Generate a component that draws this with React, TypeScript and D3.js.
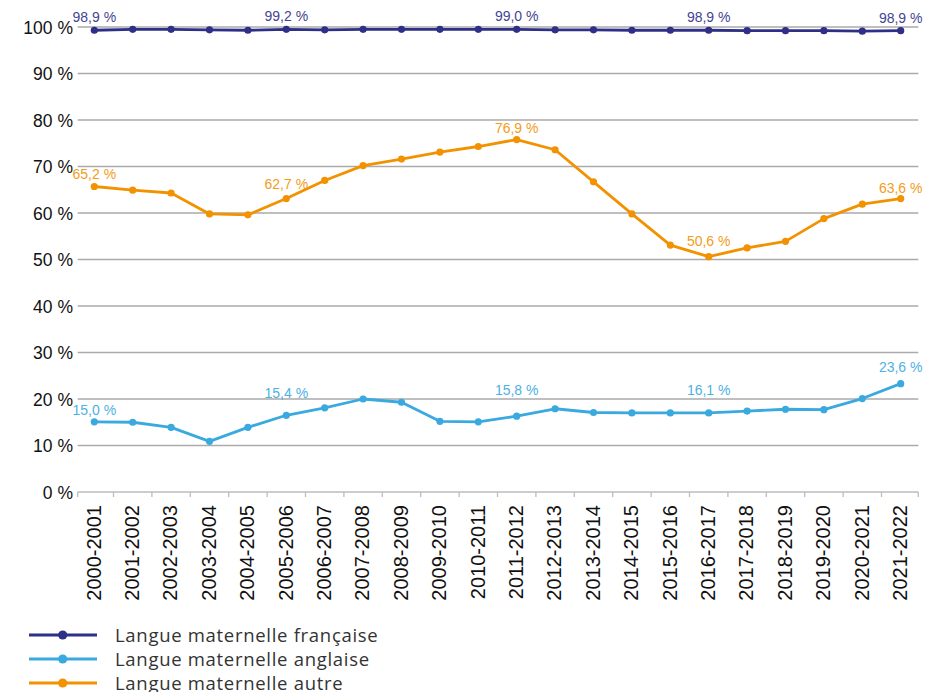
import React from "react";
import * as d3 from "d3";

const years = [
  "2000-2001","2001-2002","2002-2003","2003-2004","2004-2005","2005-2006","2006-2007",
  "2007-2008","2008-2009","2009-2010","2010-2011","2011-2012","2012-2013","2013-2014",
  "2014-2015","2015-2016","2016-2017","2017-2018","2018-2019","2019-2020","2020-2021","2021-2022",
];
const francaise = [99.3,99.5,99.5,99.4,99.3,99.5,99.4,99.5,99.5,99.5,99.5,99.5,99.4,99.4,99.3,99.3,99.3,99.2,99.2,99.2,99.1,99.2];
const anglaise = [15.1,15.0,13.9,10.9,13.9,16.5,18.1,20.0,19.3,15.2,15.1,16.3,17.9,17.1,17.0,17.0,17.0,17.4,17.8,17.7,20.1,23.3];
const autre = [65.7,64.9,64.3,59.8,59.6,63.1,67.0,70.2,71.6,73.1,74.3,75.8,73.6,66.7,59.8,53.1,50.6,52.5,53.9,58.8,61.9,63.1];
const yTicks = [0,10,20,30,40,50,60,70,80,90,100];
const seriesNames = ["Langue maternelle française","Langue maternelle anglaise","Langue maternelle autre"];
const labelsFr = [[0,"98,9 %"],[5,"99,2 %"],[11,"99,0 %"],[16,"98,9 %"],[21,"98,9 %"]] as [number,string][];
const labelsAn = [[0,"15,0 %"],[5,"15,4 %"],[11,"15,8 %"],[16,"16,1 %"],[21,"23,6 %"]] as [number,string][];
const labelsAu = [[0,"65,2 %"],[5,"62,7 %"],[11,"76,9 %"],[16,"50,6 %"],[21,"63,6 %"]] as [number,string][];

// layout-only: vertical offsets of value labels above their points
const offFr = [8,8,8,8,8];
const offAn = [7,17,21,18,12];
const offAu = [7,10,7,11,6];

const colors = ["#2E2F86", "#3AA9E0", "#F39200"];

export default function App() {
  const W = 940, H = 692;
  const left = 77.7, right = 918.3, top = 27, bottom = 492;
  const x = d3.scalePoint<string>().domain(years).range([94.3, 900.7]);
  const y = d3.scaleLinear().domain([0, 100]).range([bottom, top]);
  const step = x.step();
  const line = d3.line<number>().x((_, i) => x(years[i])!).y((v) => y(v));
  const series = [francaise, anglaise, autre];
  const labels = [labelsFr, labelsAn, labelsAu];
  const offs = [offFr, offAn, offAu];
  const tickXs = [left, ...years.slice(0, -1).map((yy) => x(yy)! + step / 2), right];

  return (
    <svg width={W} height={H} style={{ position: "absolute", left: 0, top: 0, background: "#fff" }}>
      {yTicks.map((t) => (
        <g key={t}>
          <line x1={left} x2={right} y1={y(t)} y2={y(t)} stroke={t === 0 ? "#bdbdbd" : "#aaaaaa"} strokeWidth={1.3} />
          <text x={73} y={y(t)} dy="0.38em" textAnchor="end" fontFamily="Liberation Sans, Arial, sans-serif" fontSize={17.5} fill="#111">
            {t} %
          </text>
        </g>
      ))}
      {tickXs.map((tx, i) => (
        <line key={i} x1={tx} x2={tx} y1={bottom} y2={bottom + 5} stroke="#bdbdbd" strokeWidth={1.3} />
      ))}
      {years.map((yy) => (
        <text key={yy} transform={`translate(${x(yy)! - 1},${bottom + 13}) rotate(-90)`} dy="0.36em" textAnchor="end"
          fontFamily="Liberation Sans, Arial, sans-serif" fontSize={20} fill="#111">
          {yy}
        </text>
      ))}
      {series.map((s, si) => (
        <g key={si}>
          <path d={line(s)!} fill="none" stroke={colors[si]} strokeWidth={2.8} strokeLinejoin="round" />
          {s.map((v, i) => (
            <circle key={i} cx={x(years[i])} cy={y(v)} r={3.6} fill={colors[si]} />
          ))}
          {labels[si].map(([idx, txt], k) => (
            <text key={k} x={x(years[idx])} y={y(s[idx]) - offs[si][k]} textAnchor="middle"
              fontFamily="Liberation Sans, Arial, sans-serif" fontSize={14} fill={colors[si]} opacity={0.9}>
              {txt}
            </text>
          ))}
        </g>
      ))}
      {seriesNames.map((n, i) => {
        const ly = 635 + i * 24;
        return (
          <g key={n}>
            <line x1={29} x2={97} y1={ly} y2={ly} stroke={colors[i]} strokeWidth={2.8} />
            <circle cx={62.7} cy={ly} r={4.6} fill={colors[i]} />
            <text x={115} y={ly} dy="0.36em" fontFamily="Open Sans, sans-serif" fontSize={18.5} letterSpacing={0.7} fill="#333">
              {n}
            </text>
          </g>
        );
      })}
    </svg>
  );
}
